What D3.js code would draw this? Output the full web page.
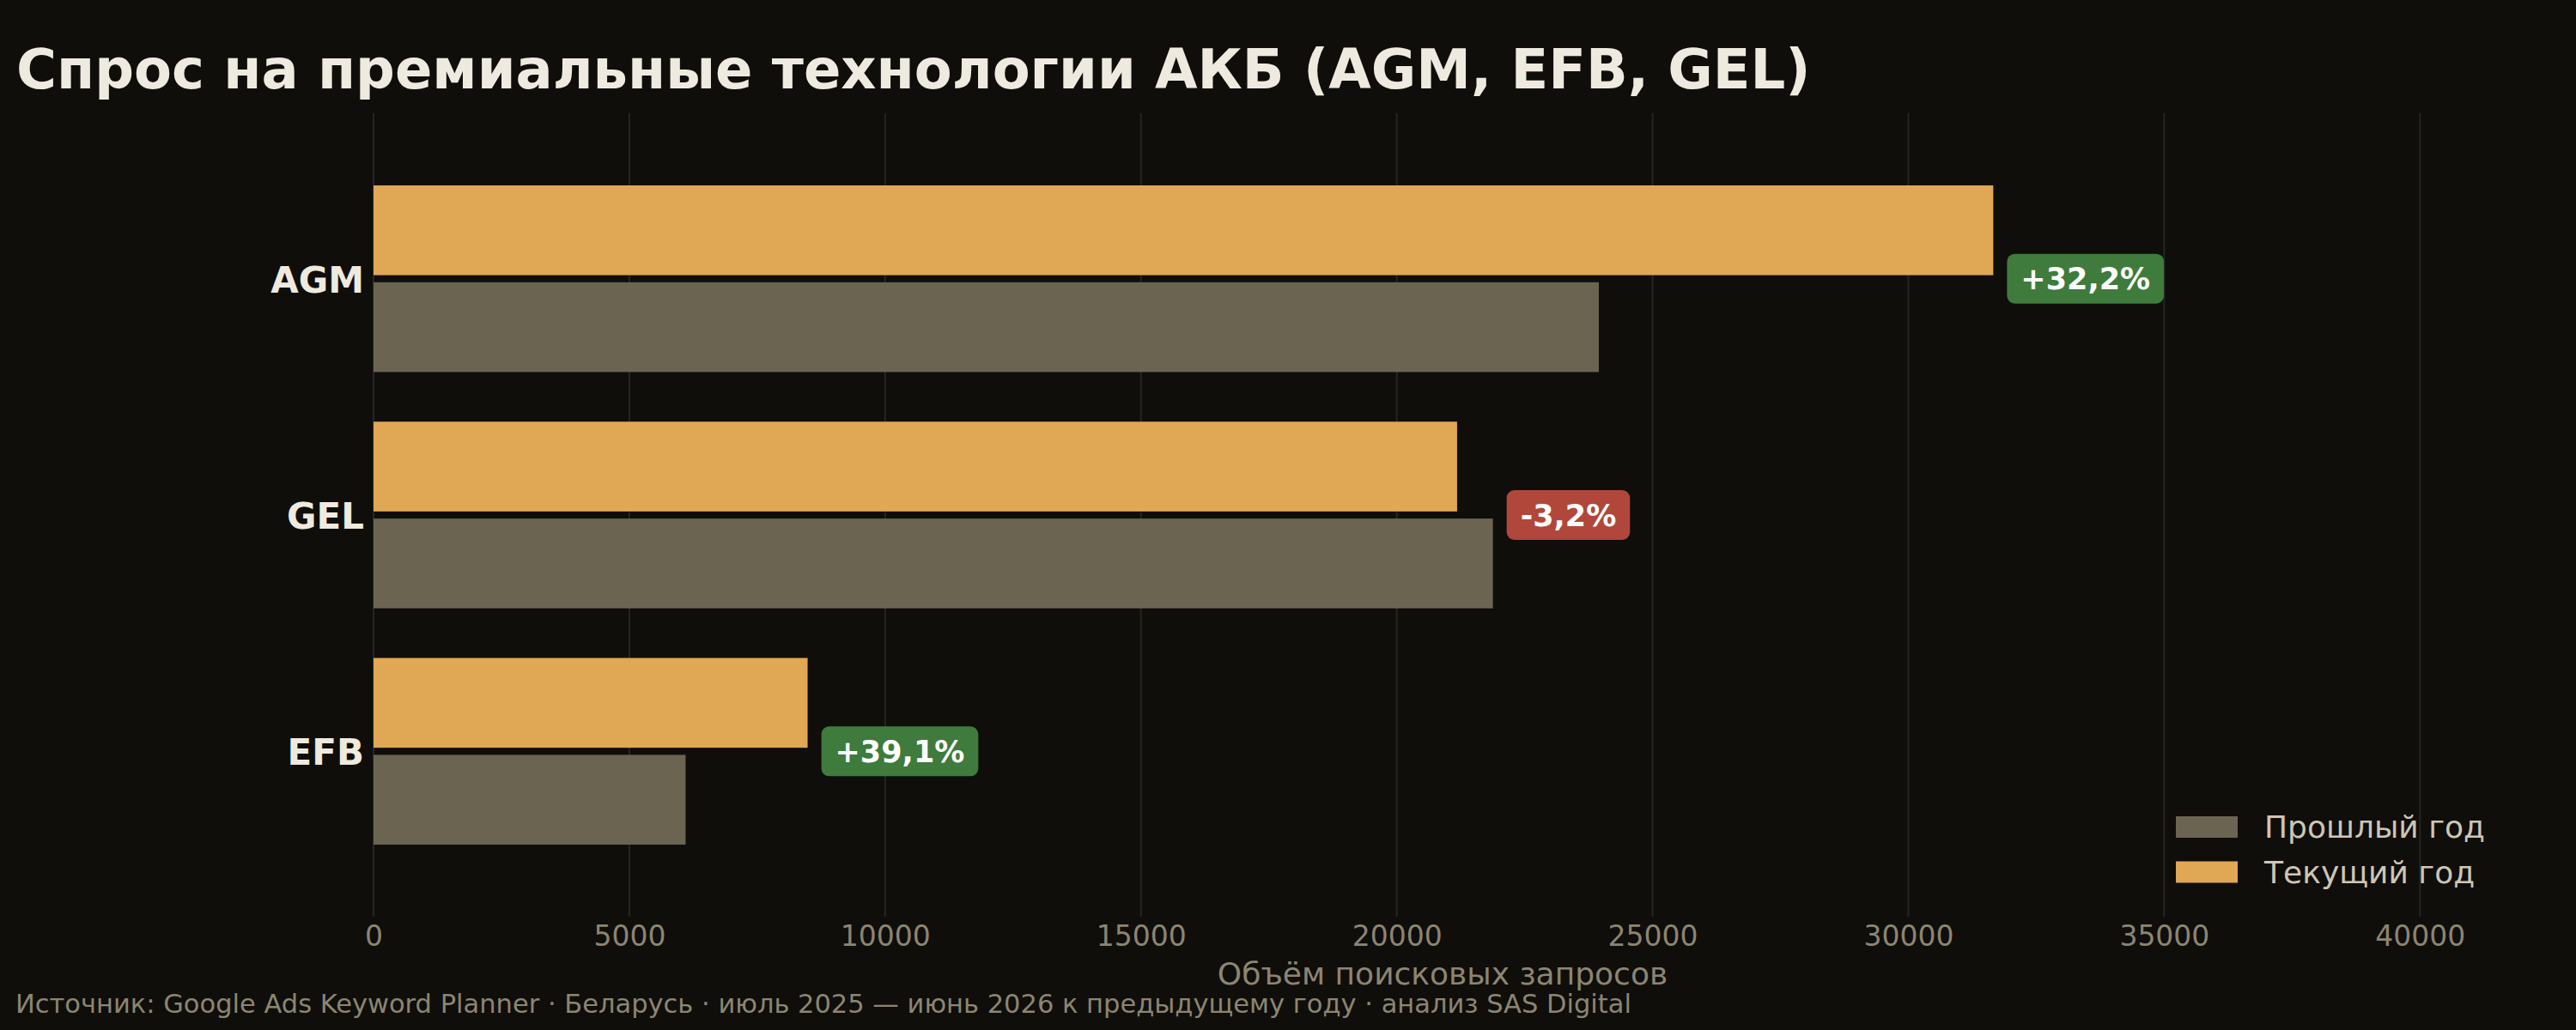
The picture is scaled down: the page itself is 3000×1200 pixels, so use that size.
<!DOCTYPE html>
<html>
<head>
<meta charset="utf-8">
<script src="https://cdn.jsdelivr.net/npm/d3@7"></script>
<style>
  body { margin: 0; background: #0f0e0b; }
  svg { display: block; }
  text { font-family: "DejaVu Sans", sans-serif; }
</style>
</head>
<body>
<section></section>
<script>
// data
var categories = ["AGM", "GEL", "EFB"];
var prevYear = [23950, 21880, 6100];
var currYear = [31660, 21180, 8485];
var tickValues = [0, 5000, 10000, 15000, 20000, 25000, 30000, 35000, 40000];
var seriesNames = ["Прошлый год", "Текущий год"];

const W = 3000, H = 1200;
const bg = "#0f0e0b";
const colCurr = "#e0a755";
const colPrev = "#6b6451";
const colUp = "#3e7b3c";
const colDown = "#b0473a";

const svg = d3.select('section')
    .append('svg')
    .attr('width', W)
    .attr('height', H);

svg.append('rect').attr('width', W).attr('height', H).attr('fill', bg);

const plotTop = 132, plotBottom = 1068;
const xMax = d3.max(currYear.concat(prevYear)) * 1.32;

const xScale = d3.scaleLinear()
    .domain([0, xMax])
    .range([435, 2925]);

// category index -> y (matplotlib-ish limits)
const yScale = d3.scaleLinear()
    .domain([-0.7, categories.length - 1 + 0.7])
    .range([plotTop, plotBottom]);

const barH = yScale(0.38) - yScale(0);
const off = yScale(0.205) - yScale(0);

// grid
svg.append('g').selectAll('line')
    .data(tickValues)
    .enter()
    .append('line')
    .attr('x1', d => xScale(d)).attr('x2', d => xScale(d))
    .attr('y1', plotTop).attr('y2', plotBottom)
    .attr('stroke', '#262520')
    .attr('stroke-width', 2);

// x axis
const xAxis = d3.axisBottom(xScale)
    .tickValues(tickValues)
    .tickFormat(d3.format('d'))
    .tickSize(0)
    .tickPadding(11);

const gx = svg.append('g')
    .attr('transform', `translate(0, ${plotBottom})`)
    .call(xAxis);
gx.select('.domain').remove();
gx.selectAll('text')
    .attr('fill', '#8c8572')
    .style('font-size', '33px')
    .style('font-family', '"DejaVu Sans", sans-serif');

// bars
const rows = categories.map((c, i) => ({ name: c, i: i, prev: prevYear[i], curr: currYear[i] }));

svg.selectAll('.bar-curr').data(rows)
    .enter()
    .append('rect')
    .attr('class', 'bar-curr')
    .attr('x', xScale(0))
    .attr('y', d => yScale(d.i) - off - barH / 2)
    .attr('width', d => xScale(d.curr) - xScale(0))
    .attr('height', barH)
    .attr('fill', colCurr);

svg.selectAll('.bar-prev').data(rows)
    .enter()
    .append('rect')
    .attr('class', 'bar-prev')
    .attr('x', xScale(0))
    .attr('y', d => yScale(d.i) + off - barH / 2)
    .attr('width', d => xScale(d.prev) - xScale(0))
    .attr('height', barH)
    .attr('fill', colPrev);

// category labels
svg.selectAll('.cat').data(rows)
    .enter()
    .append('text')
    .attr('class', 'cat')
    .attr('x', 424)
    .attr('y', d => yScale(d.i))
    .attr('dy', '0.38em')
    .attr('text-anchor', 'end')
    .attr('fill', '#efeadf')
    .style('font-size', '42px')
    .style('font-weight', 'bold')
    .text(d => d.name);

// change badges
function fmtPct(d) {
    var p = (d.curr / d.prev - 1) * 100;
    var s = Math.abs(p).toFixed(1).replace('.', ',');
    return (p >= 0 ? '+' : '-') + s + '%';
}

rows.forEach(function(d) {
    var x0 = xScale(Math.max(d.curr, d.prev)) + 16;
    var cy = yScale(d.i);
    var g = svg.append('g');
    var r = g.append('rect');
    var t = g.append('text')
        .attr('x', x0 + 16)
        .attr('y', cy)
        .attr('dy', '0.36em')
        .attr('fill', '#ffffff')
        .style('font-size', '35px')
        .style('font-weight', 'bold')
        .text(fmtPct(d));
    var tw = t.node().getComputedTextLength();
    r.attr('x', x0)
        .attr('y', cy - 29)
        .attr('width', tw + 32)
        .attr('height', 58)
        .attr('rx', 9)
        .attr('fill', d.curr >= d.prev ? colUp : colDown);
});

// legend
const legend = svg.append('g');
[colPrev, colCurr].forEach(function(c, k) {
    var cy = 963.5 + k * 52.5;
    legend.append('rect')
        .attr('x', 2534).attr('y', cy - 12.5)
        .attr('width', 72).attr('height', 25)
        .attr('fill', c);
    legend.append('text')
        .attr('x', 2637).attr('y', cy)
        .attr('dy', '0.36em')
        .attr('fill', '#cdc6b6')
        .style('font-size', '36px')
        .text(seriesNames[k]);
});

// title, axis label, source
svg.append('text')
    .attr('x', 19).attr('y', 103)
    .attr('fill', '#efeadf')
    .style('font-size', '64px')
    .style('font-weight', 'bold')
    .text('Спрос на премиальные технологии АКБ (AGM, EFB, GEL)');

svg.append('text')
    .attr('x', (xScale.range()[0] + xScale.range()[1]) / 2)
    .attr('y', 1147)
    .attr('text-anchor', 'middle')
    .attr('fill', '#8c8572')
    .style('font-size', '36px')
    .text('Объём поисковых запросов');

svg.append('text')
    .attr('x', 18).attr('y', 1180)
    .attr('fill', '#8c8572')
    .style('font-size', '30.5px')
    .text('Источник: Google Ads Keyword Planner · Беларусь · июль 2025 — июнь 2026 к предыдущему году · анализ SAS Digital');
</script>
</body>
</html>
